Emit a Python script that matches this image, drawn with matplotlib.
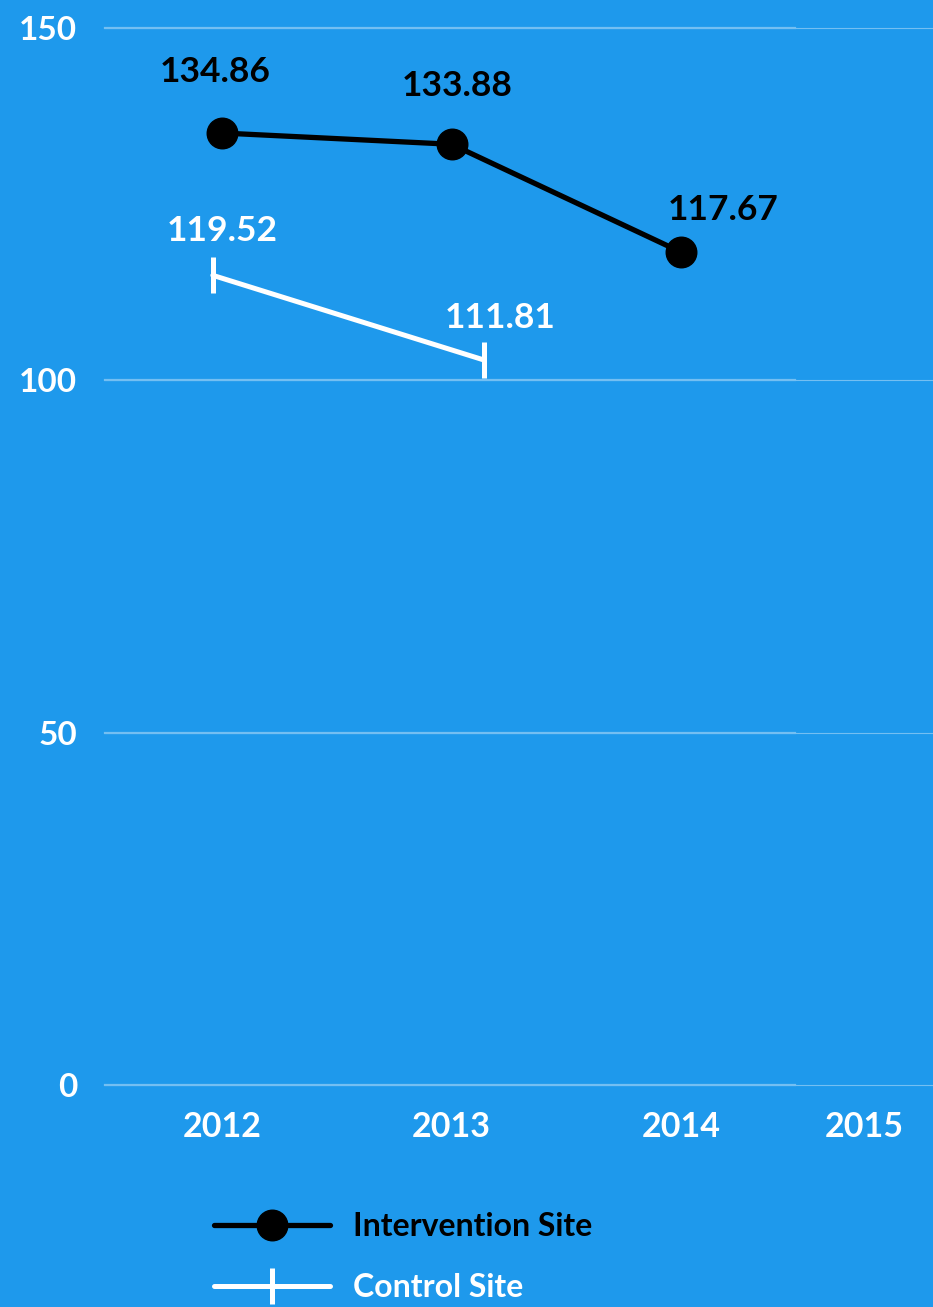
import matplotlib
matplotlib.use("Agg")
import matplotlib.pyplot as plt
from matplotlib.lines import Line2D

# data
years = [2012, 2013, 2014]
intervention = [135.1, 133.5, 118.2]
intervention_labels = ["134.86", "133.88", "117.67"]
control_x = [2011.96, 2013.14]
control = [114.9, 102.9]
control_labels = ["119.52", "111.81"]
y_ticks = [0, 50, 100, 150]
x_tick_labels = ["2012", "2013", "2014", "2015"]

bg = "#1E99EC"
grid_col = "#74BFF2"
plt.rcParams["font.family"] = ["Lato", "DejaVu Sans"]
plt.rcParams["font.weight"] = "bold"

fig = plt.figure(figsize=(9.33, 13.07), dpi=100, facecolor=bg)
# axes from x=105px to 933px, y from 28px to 1085px
ax = fig.add_axes([105 / 933, (1307 - 1085) / 1307, 828 / 933, (1085 - 28) / 1307])
ax.set_facecolor(bg)
x_left = 2012 - 117 / 229.5
x_right = 2012 + 711 / 229.5
ax.set_xlim(x_left, x_right)
ax.set_ylim(0, 150)

for y in y_ticks:
    ax.axhline(y, xmin=0, xmax=690 / 828, color=grid_col, lw=1.6, zorder=1, clip_on=False)
    ax.axhline(y, color=grid_col, lw=0.8, zorder=1, clip_on=False)

for s in ax.spines.values():
    s.set_visible(False)

ax.set_yticks(y_ticks)
ax.set_yticklabels([str(v) for v in y_ticks])
ax.tick_params(axis="y", length=0, pad=20, labelsize=24, labelcolor="white")

# 2015 label sits a bit left of its slot in the original
ax.set_xticks([2012, 2013, 2014, 2014.8])
ax.set_xticklabels(x_tick_labels)
ax.tick_params(axis="x", length=0, pad=19, labelsize=24.5, labelcolor="white")

ax.plot(years, intervention, color="black", lw=3.8, marker="o", ms=22,
        zorder=4, clip_on=False, solid_capstyle="round")
ax.plot(control_x, control, color="white", lw=3.6, marker="|", ms=26, mew=3.6,
        zorder=3, clip_on=False, solid_capstyle="round")

int_offsets = [(-5, 44), (4, 42), (30, 30)]
for x, y, lab, off in zip(years, intervention, intervention_labels, int_offsets):
    ax.annotate(lab, (x, y), xytext=off, textcoords="offset points",
                ha="center", va="center", fontsize=25.5, color="black", fontweight="bold")

ctl_offsets = [(7, 32), (12, 30)]
for x, y, lab, off in zip(control_x, control, control_labels, ctl_offsets):
    ax.annotate(lab, (x, y), xytext=off, textcoords="offset points",
                ha="center", va="center", fontsize=25.5, color="white", fontweight="bold")

handles = [
    Line2D([], [], color="black", lw=3.8, marker="o", ms=22, solid_capstyle="round"),
    Line2D([], [], color="white", lw=3.6, marker="|", ms=26, mew=3.6, solid_capstyle="round"),
]
leg = fig.legend(handles, ["Intervention Site", "Control Site"],
                 loc="upper left", bbox_to_anchor=(201 / 933, 1 - 1199 / 1307),
                 frameon=False, fontsize=23, handlelength=3.65, handletextpad=0.7,
                 labelspacing=1.0, borderaxespad=0)
for t, c in zip(leg.get_texts(), ["black", "white"]):
    t.set_color(c)
    t.set_fontweight("bold")

fig.savefig("out.png", dpi=100, facecolor=bg)
